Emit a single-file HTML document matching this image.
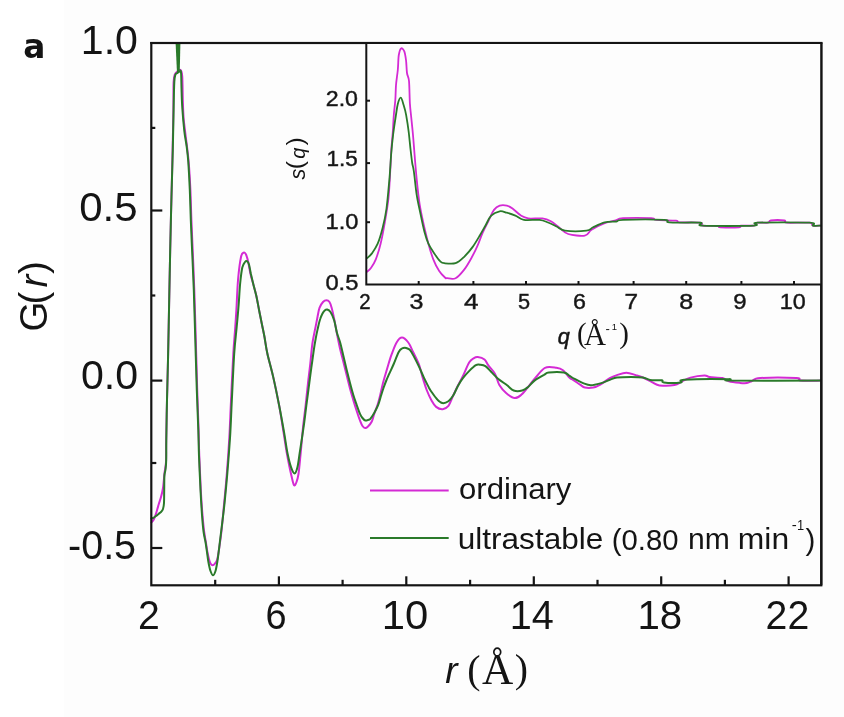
<!DOCTYPE html>
<html><head><meta charset="utf-8"><style>
html,body{margin:0;padding:0;background:#fff;}
svg{display:block;}
text{font-family:"Liberation Sans",Arial,sans-serif;fill:#141414;}
.serif{font-family:"Liberation Serif","Times New Roman",serif;}
.dv{font-family:"DejaVu Sans",sans-serif;}
</style></head><body>
<svg width="844" height="717" viewBox="0 0 844 717">
<rect x="0" y="0" width="844" height="717" fill="#ffffff"/>
<rect x="64" y="0" width="780" height="717" fill="#fdfdfd"/>
<g fill="none" stroke-width="2" stroke-linejoin="round" stroke-linecap="round">
<path d="M151.5,522.5 C151.9,521.9 153.2,520.8 154.0,519.0 C154.8,517.2 155.8,514.3 156.5,512.0 C157.2,509.7 157.8,507.5 158.5,505.0 C159.2,502.5 160.2,499.8 161.0,497.0 C161.8,494.2 162.4,492.0 163.0,488.0 C163.6,484.0 164.0,477.3 164.5,473.0 C165.0,468.7 165.7,467.5 166.0,462.0 C166.3,456.5 166.0,450.3 166.2,440.0 C166.4,429.7 166.7,413.3 167.0,400.0 C167.3,386.7 167.7,375.0 168.0,360.0 C168.3,345.0 168.7,326.7 169.0,310.0 C169.3,293.3 169.7,275.8 170.0,260.0 C170.3,244.2 170.7,227.5 171.0,215.0 C171.3,202.5 171.5,195.8 171.8,185.0 C172.1,174.2 172.3,162.5 172.6,150.0 C172.9,137.5 173.2,121.3 173.4,110.0 C173.6,98.7 173.3,88.0 173.6,82.0 C173.9,76.0 174.3,75.8 175.0,74.0 C175.7,72.2 177.1,71.7 178.0,71.0 C178.9,70.3 179.8,69.2 180.5,70.0 C181.2,70.8 181.8,71.0 182.2,76.0 C182.6,81.0 182.6,93.0 182.8,100.0 C183.0,107.0 183.2,112.5 183.6,118.0 C184.0,123.5 184.7,127.7 185.3,133.0 C185.9,138.3 186.8,144.5 187.4,150.0 C188.0,155.5 188.5,159.3 189.0,166.0 C189.5,172.7 190.0,181.0 190.4,190.0 C190.8,199.0 191.0,209.2 191.4,220.0 C191.8,230.8 192.4,243.3 192.9,255.0 C193.4,266.7 193.8,275.8 194.3,290.0 C194.8,304.2 195.3,323.3 195.8,340.0 C196.3,356.7 196.7,375.0 197.2,390.0 C197.7,405.0 198.2,419.0 198.6,430.0 C198.9,441.0 198.9,446.0 199.3,456.0 C199.7,466.0 200.3,480.2 200.8,490.0 C201.3,499.8 201.9,508.0 202.5,515.0 C203.1,522.0 203.6,527.3 204.2,532.0 C204.8,536.7 205.5,539.7 206.0,543.0 C206.5,546.3 206.9,549.4 207.4,552.0 C207.9,554.6 208.3,556.5 208.8,558.4 C209.3,560.3 209.8,562.4 210.5,563.5 C211.2,564.6 211.9,565.3 212.7,565.3 C213.4,565.3 214.2,564.5 215.0,563.5 C215.8,562.5 216.5,562.2 217.3,559.2 C218.1,556.2 218.9,550.1 219.6,545.4 C220.3,540.7 220.7,537.9 221.5,530.8 C222.3,523.7 223.3,512.2 224.2,502.7 C225.1,493.2 226.0,484.5 226.8,473.7 C227.7,462.9 228.6,450.1 229.3,438.0 C230.0,425.9 230.3,415.1 231.0,401.0 C231.7,386.9 232.6,365.9 233.3,353.7 C234.0,341.5 234.7,335.3 235.2,328.0 C235.7,320.7 235.9,317.9 236.4,309.7 C236.9,301.5 237.3,287.8 238.1,279.0 C238.9,270.2 240.1,261.4 241.0,257.0 C241.9,252.6 242.9,253.0 243.7,252.6 C244.5,252.2 245.3,253.1 246.0,254.5 C246.7,255.9 247.2,257.8 248.0,261.0 C248.8,264.2 249.6,270.0 250.5,274.0 C251.4,278.0 252.5,281.4 253.5,285.0 C254.5,288.6 255.4,291.7 256.3,295.8 C257.2,299.9 258.1,305.1 259.0,309.7 C259.9,314.3 260.9,319.1 261.8,323.7 C262.7,328.2 263.6,332.0 264.5,337.0 C265.4,342.0 265.9,347.0 267.4,353.7 C268.9,360.4 271.3,368.7 273.3,377.4 C275.3,386.1 277.5,396.7 279.2,405.8 C280.9,414.9 282.2,424.1 283.5,432.0 C284.8,439.9 285.8,447.4 286.8,453.2 C287.8,459.0 288.7,463.2 289.5,467.0 C290.3,470.8 290.8,473.0 291.5,476.0 C292.2,479.0 293.2,484.2 294.0,485.2 C294.8,486.2 295.8,483.9 296.5,482.0 C297.2,480.1 297.8,478.5 298.5,474.0 C299.2,469.5 299.7,463.1 300.5,455.0 C301.3,446.9 302.3,433.9 303.2,425.6 C304.1,417.4 304.8,412.6 305.6,405.5 C306.4,398.4 307.2,390.0 308.0,383.0 C308.8,376.0 309.6,370.3 310.3,363.7 C311.0,357.1 311.6,349.3 312.4,343.5 C313.2,337.7 314.3,333.2 315.2,328.8 C316.1,324.4 316.8,320.5 317.5,317.0 C318.2,313.5 318.6,310.4 319.5,307.9 C320.4,305.4 321.8,303.3 323.0,302.0 C324.2,300.7 325.4,300.2 326.5,300.2 C327.6,300.2 328.6,300.7 329.5,302.0 C330.4,303.3 330.9,305.2 331.7,308.0 C332.5,310.8 333.3,314.7 334.2,319.0 C335.1,323.3 336.0,329.1 337.0,334.0 C338.0,338.9 338.9,343.8 340.0,348.5 C341.1,353.2 342.3,357.5 343.4,362.0 C344.5,366.5 345.6,370.9 346.7,375.3 C347.8,379.7 348.9,384.3 350.0,388.5 C351.1,392.7 352.3,396.6 353.4,400.4 C354.5,404.1 355.6,407.6 356.7,411.0 C357.8,414.4 359.0,418.0 360.0,420.5 C361.0,423.0 361.6,424.7 362.5,426.0 C363.4,427.3 364.2,428.0 365.1,428.1 C366.0,428.2 366.9,427.6 368.0,426.5 C369.1,425.4 370.8,423.6 371.8,421.5 C372.8,419.4 373.2,416.8 374.2,414.0 C375.1,411.2 376.5,408.0 377.5,405.0 C378.5,402.0 379.1,399.7 380.0,396.0 C380.9,392.3 382.0,386.9 383.0,383.0 C384.0,379.1 385.0,375.8 386.0,372.5 C387.0,369.2 387.9,366.1 388.8,363.0 C389.8,359.9 390.4,357.6 391.7,354.2 C393.0,350.8 394.9,345.3 396.6,342.5 C398.3,339.7 400.1,337.6 402.0,337.6 C403.9,337.6 406.4,340.1 408.3,342.5 C410.2,344.9 411.4,348.5 413.2,352.2 C415.0,355.9 417.5,360.5 419.1,364.9 C420.7,369.3 421.7,374.4 423.0,378.6 C424.3,382.8 425.3,386.4 426.7,390.0 C428.1,393.6 429.8,397.4 431.4,400.2 C433.0,403.0 434.2,405.4 436.1,406.9 C438.0,408.4 440.6,409.4 442.7,409.2 C444.8,409.0 446.6,408.2 448.4,405.9 C450.1,403.6 451.6,398.9 453.2,395.5 C454.8,392.1 456.4,388.7 458.0,385.5 C459.6,382.3 460.8,380.4 462.7,376.5 C464.6,372.6 467.4,365.4 469.3,362.3 C471.2,359.2 472.6,359.0 474.0,358.1 C475.4,357.2 476.1,356.9 477.8,357.1 C479.6,357.3 482.8,358.1 484.5,359.5 C486.2,360.9 486.5,362.8 488.2,365.2 C489.9,367.6 493.0,370.3 494.9,373.7 C496.8,377.1 497.6,382.1 499.5,385.3 C501.4,388.5 503.6,390.8 506.1,392.9 C508.6,395.0 512.1,397.8 514.6,398.1 C517.1,398.4 519.1,396.6 521.3,394.8 C523.5,393.0 525.5,390.1 527.9,387.2 C530.3,384.3 532.6,380.9 535.5,377.7 C538.4,374.5 541.5,369.4 545.0,367.8 C548.5,366.2 553.4,367.4 556.4,367.8 C559.4,368.2 560.8,368.6 563.0,370.2 C565.2,371.8 567.9,376.1 569.6,377.7 C571.3,379.3 571.2,378.8 573.0,379.9 C574.8,381.0 578.1,383.3 580.1,384.6 C582.1,385.9 582.7,387.1 584.9,387.6 C587.1,388.1 590.6,388.1 593.2,387.6 C595.8,387.1 597.5,386.2 600.3,384.6 C603.1,383.0 607.0,379.7 609.8,378.1 C612.6,376.5 614.1,376.0 616.9,375.1 C619.7,374.2 623.2,372.8 626.4,372.8 C629.5,372.8 633.0,374.3 635.8,375.1 C638.5,375.9 640.1,376.3 642.9,377.5 C645.7,378.7 649.6,381.0 652.4,382.3 C655.2,383.6 655.8,384.9 659.5,385.4 C663.2,385.9 670.8,385.8 674.5,385.1 C678.2,384.4 679.3,382.6 682.0,381.3 C684.7,380.1 686.8,378.6 690.5,377.6 C694.2,376.6 701.2,375.6 704.4,375.5 C707.6,375.4 706.7,376.7 709.7,377.1 C712.7,377.5 719.3,377.4 722.5,378.1 C725.7,378.8 726.0,380.5 728.9,381.3 C731.8,382.1 737.0,382.6 740.0,382.9 C743.0,383.2 744.9,383.3 746.9,383.0 C748.9,382.7 749.8,381.8 752.0,381.0 C754.2,380.2 753.0,378.5 760.4,378.0 C767.8,377.5 789.7,377.6 796.4,378.0 C803.1,378.4 796.4,380.2 800.5,380.6 C804.6,381.0 817.6,380.6 821.0,380.6" stroke="#d42ad4"/>
<path d="M151.5,518.5 C151.8,518.4 152.2,518.4 153.0,518.0 C153.8,517.6 155.1,516.7 156.0,516.0 C156.9,515.3 157.7,514.7 158.5,514.0 C159.3,513.3 160.2,512.8 161.0,512.0 C161.8,511.2 162.5,510.5 163.0,509.0 C163.5,507.5 163.8,506.2 164.0,503.0 C164.2,499.8 164.1,494.5 164.2,490.0 C164.3,485.5 164.2,479.5 164.4,476.0 C164.6,472.5 165.3,471.7 165.6,469.0 C165.9,466.3 166.1,464.8 166.2,460.0 C166.3,455.2 166.2,450.0 166.3,440.0 C166.4,430.0 166.7,413.3 167.0,400.0 C167.3,386.7 167.7,375.0 168.0,360.0 C168.3,345.0 168.7,326.7 169.0,310.0 C169.3,293.3 169.7,275.8 170.0,260.0 C170.3,244.2 170.7,227.5 171.0,215.0 C171.3,202.5 171.5,195.8 171.8,185.0 C172.1,174.2 172.5,162.5 172.8,150.0 C173.1,137.5 173.3,121.3 173.6,110.0 C173.8,98.7 174.0,87.9 174.3,82.0 C174.6,76.1 175.0,76.0 175.5,74.5 C176.0,73.0 176.8,73.5 177.5,73.0 C178.2,72.5 178.9,71.7 179.5,71.5 C180.1,71.3 180.7,69.2 181.0,72.0 C181.3,74.8 181.3,82.0 181.5,88.0 C181.7,94.0 181.8,100.8 182.3,108.0 C182.8,115.2 183.6,124.7 184.3,131.0 C185.0,137.3 185.9,140.8 186.6,146.0 C187.3,151.2 187.8,154.7 188.3,162.0 C188.8,169.3 189.4,180.3 189.8,190.0 C190.2,199.7 190.4,209.2 190.8,220.0 C191.2,230.8 191.8,243.3 192.3,255.0 C192.8,266.7 193.3,275.8 193.8,290.0 C194.3,304.2 194.8,323.3 195.3,340.0 C195.8,356.7 196.3,375.0 196.8,390.0 C197.3,405.0 197.9,419.0 198.3,430.0 C198.7,441.0 198.6,446.0 199.0,456.0 C199.4,466.0 200.0,480.2 200.5,490.0 C201.0,499.8 201.5,508.0 202.0,515.0 C202.5,522.0 203.0,527.5 203.6,532.0 C204.2,536.5 204.9,538.7 205.5,542.0 C206.1,545.3 206.5,548.7 207.0,552.0 C207.5,555.3 207.8,558.8 208.4,562.0 C209.0,565.2 209.7,568.8 210.5,571.0 C211.3,573.2 212.2,575.3 213.0,575.3 C213.8,575.3 214.8,573.2 215.5,571.0 C216.2,568.8 216.6,566.3 217.3,562.0 C218.0,557.7 218.8,550.8 219.5,545.0 C220.2,539.2 220.8,534.2 221.7,527.2 C222.5,520.2 223.7,511.6 224.6,502.7 C225.5,493.8 226.4,484.5 227.3,473.7 C228.2,462.9 229.2,450.1 230.0,438.0 C230.8,425.9 231.1,415.1 231.8,401.0 C232.5,386.9 233.4,365.9 234.2,353.7 C235.0,341.5 236.0,334.4 236.6,328.0 C237.2,321.6 237.4,319.2 237.8,315.0 C238.2,310.8 238.4,308.1 238.8,302.8 C239.2,297.5 239.6,288.9 240.2,283.0 C240.8,277.1 241.5,271.0 242.3,267.5 C243.1,264.0 244.2,263.1 245.0,262.0 C245.8,260.9 246.3,260.8 247.0,261.2 C247.7,261.6 248.4,262.4 249.0,264.5 C249.6,266.6 250.1,270.1 250.8,273.5 C251.6,276.9 252.6,281.3 253.5,285.0 C254.4,288.7 255.4,291.7 256.3,295.8 C257.2,299.9 258.1,305.1 259.0,309.7 C259.9,314.3 260.9,319.1 261.8,323.7 C262.7,328.2 263.6,332.0 264.5,337.0 C265.4,342.0 265.9,347.0 267.4,353.7 C268.9,360.4 271.3,368.7 273.3,377.4 C275.3,386.1 277.4,396.7 279.2,405.8 C281.0,414.9 282.6,424.0 284.0,431.9 C285.4,439.8 286.3,447.3 287.5,453.2 C288.7,459.1 289.9,464.0 291.1,467.4 C292.3,470.8 293.5,473.5 294.6,473.4 C295.7,473.3 296.6,470.7 297.5,467.0 C298.4,463.3 298.9,457.9 300.0,451.0 C301.1,444.1 302.7,433.3 303.8,425.6 C304.9,417.9 305.6,410.9 306.4,405.0 C307.2,399.1 307.8,394.8 308.4,390.0 C309.0,385.2 309.6,380.5 310.2,376.0 C310.8,371.5 311.4,367.3 312.0,363.0 C312.6,358.7 313.2,354.2 313.8,350.0 C314.4,345.8 315.1,341.8 315.8,338.0 C316.5,334.2 317.3,330.7 318.0,327.5 C318.7,324.3 319.4,321.3 320.2,319.0 C320.9,316.7 321.8,314.9 322.5,313.5 C323.2,312.1 323.9,311.2 324.7,310.5 C325.5,309.8 326.2,309.2 327.2,309.5 C328.2,309.8 329.3,310.2 330.5,312.0 C331.7,313.8 333.1,317.0 334.2,320.5 C335.3,324.0 336.0,329.4 337.0,333.0 C338.0,336.6 338.9,338.2 340.0,342.0 C341.1,345.8 342.3,351.3 343.4,356.0 C344.5,360.7 345.6,365.5 346.7,370.0 C347.8,374.5 348.9,378.8 350.0,383.0 C351.1,387.2 352.3,391.6 353.4,395.3 C354.5,399.0 355.6,401.9 356.7,405.0 C357.8,408.1 359.0,411.6 360.0,413.8 C361.0,416.0 361.6,416.9 362.5,418.0 C363.4,419.1 364.4,420.2 365.3,420.5 C366.2,420.8 367.2,420.3 368.0,420.0 C368.8,419.7 369.3,420.0 370.3,418.8 C371.3,417.6 372.9,415.3 374.2,413.0 C375.5,410.7 377.1,407.8 378.1,405.2 C379.2,402.6 379.6,400.4 380.5,397.5 C381.4,394.6 382.5,390.9 383.5,388.0 C384.5,385.1 385.6,382.2 386.5,380.0 C387.4,377.8 387.6,377.4 388.8,374.7 C390.0,372.0 392.1,367.8 393.7,364.0 C395.3,360.2 397.2,354.8 398.6,352.2 C400.0,349.6 400.9,349.2 402.0,348.5 C403.1,347.8 404.0,347.8 404.9,347.8 C405.8,347.8 406.6,348.1 407.5,348.5 C408.4,348.9 409.2,348.9 410.3,350.3 C411.4,351.7 412.7,354.3 414.2,357.1 C415.7,359.9 417.5,363.5 419.1,366.9 C420.7,370.3 422.3,374.2 423.9,377.6 C425.5,381.0 427.6,385.0 428.8,387.4 C430.1,389.8 430.0,389.7 431.4,391.7 C432.8,393.7 435.3,397.4 437.1,399.3 C438.9,401.2 440.4,402.8 442.3,403.1 C444.2,403.4 446.6,402.5 448.4,401.2 C450.2,399.9 451.6,398.0 453.2,395.5 C454.8,393.0 456.3,388.9 457.9,386.0 C459.5,383.1 460.8,380.9 462.7,378.4 C464.6,375.9 467.1,373.1 469.3,370.9 C471.5,368.7 474.2,366.2 475.9,365.2 C477.6,364.2 478.1,364.5 479.7,364.7 C481.3,364.9 483.5,364.9 485.4,366.1 C487.3,367.3 489.1,369.8 491.1,371.8 C493.2,373.9 495.0,376.1 497.7,378.4 C500.4,380.6 504.4,383.3 507.1,385.3 C509.8,387.3 511.2,389.6 513.7,390.5 C516.2,391.4 519.8,391.1 522.2,390.5 C524.6,389.9 525.9,388.8 527.9,387.2 C529.9,385.6 531.8,382.7 534.5,380.6 C537.2,378.6 541.6,376.2 544.0,374.9 C546.4,373.5 545.5,372.9 548.8,372.5 C552.1,372.1 560.4,371.9 563.9,372.5 C567.4,373.1 567.9,374.9 569.6,375.9 C571.3,376.9 571.9,377.4 574.2,378.7 C576.6,379.9 580.9,382.3 583.7,383.4 C586.5,384.5 588.0,385.2 590.8,385.2 C593.6,385.2 597.1,384.3 600.3,383.4 C603.5,382.5 607.0,380.9 609.8,379.9 C612.6,378.9 613.3,378.0 616.9,377.5 C620.5,377.0 626.8,376.9 631.1,376.9 C635.4,376.9 639.8,377.0 642.9,377.5 C646.0,378.0 646.9,379.4 650.0,379.9 C653.1,380.4 659.4,379.9 661.7,380.3 C664.0,380.7 660.7,382.0 663.9,382.4 C667.1,382.8 677.5,382.8 680.9,382.4 C684.3,381.9 676.1,380.2 684.1,379.7 C692.1,379.2 721.1,379.0 728.9,379.2 C736.7,379.4 715.6,380.4 731.0,380.6 C746.4,380.8 806.0,380.6 821.0,380.6" stroke="#2a7a2a"/>
</g>
<polygon points="175.6,43 180.4,43 179.8,70 177,73" fill="#2a7a2a"/>
<g stroke="#141414" stroke-width="2.2" fill="none">
<rect x="151.3" y="43" width="670" height="542.3"/>
<line x1="215.2" y1="585.3" x2="215.2" y2="579.8"/>
<line x1="278.9" y1="585.3" x2="278.9" y2="576.3"/>
<line x1="342.6" y1="585.3" x2="342.6" y2="579.8"/>
<line x1="406.3" y1="585.3" x2="406.3" y2="576.3"/>
<line x1="470.1" y1="585.3" x2="470.1" y2="579.8"/>
<line x1="533.8" y1="585.3" x2="533.8" y2="576.3"/>
<line x1="597.5" y1="585.3" x2="597.5" y2="579.8"/>
<line x1="661.2" y1="585.3" x2="661.2" y2="576.3"/>
<line x1="724.9" y1="585.3" x2="724.9" y2="579.8"/>
<line x1="788.6" y1="585.3" x2="788.6" y2="576.3"/>
<line x1="151.3" y1="127.9" x2="155.3" y2="127.9"/>
<line x1="151.3" y1="210.5" x2="162.3" y2="210.5"/>
<line x1="151.3" y1="295.5" x2="155.3" y2="295.5"/>
<line x1="151.3" y1="380.6" x2="162.3" y2="380.6"/>
<line x1="151.3" y1="463" x2="156.3" y2="463"/>
<line x1="151.3" y1="548" x2="162.3" y2="548"/>
</g>
<rect x="366.3" y="43" width="455" height="241.5" fill="#fdfdfd"/>
<g fill="none" stroke-width="1.8" stroke-linejoin="round">
<path d="M366.8,272.0 C367.5,271.3 369.4,270.1 370.9,268.0 C372.4,265.9 374.2,263.4 375.8,259.3 C377.4,255.2 379.2,249.6 380.6,243.7 C382.1,237.8 383.2,231.6 384.5,224.1 C385.8,216.6 387.4,207.8 388.4,198.8 C389.4,189.8 389.8,178.1 390.3,170.0 C390.8,161.9 390.9,156.3 391.3,150.0 C391.7,143.7 392.4,137.8 392.8,132.0 C393.2,126.2 393.4,120.6 393.8,115.3 C394.2,110.0 394.9,105.3 395.3,100.3 C395.7,95.3 395.6,90.2 396.0,85.2 C396.4,80.2 397.3,75.0 397.8,70.0 C398.3,65.0 398.2,58.6 398.8,55.0 C399.4,51.4 400.2,49.0 401.1,48.4 C402.0,47.8 403.4,49.3 404.2,51.2 C405.0,53.1 405.5,56.4 406.0,60.0 C406.5,63.6 406.5,69.5 407.0,73.0 C407.5,76.5 408.5,75.9 409.0,81.0 C409.5,86.1 409.5,97.6 409.9,103.6 C410.3,109.6 410.7,111.9 411.2,117.0 C411.7,122.1 412.4,128.5 412.9,134.0 C413.4,139.5 413.6,142.4 414.2,150.0 C414.8,157.6 415.8,170.2 416.7,179.3 C417.6,188.4 418.5,197.1 419.7,204.6 C420.9,212.1 422.2,217.6 423.6,224.1 C425.1,230.6 426.8,237.8 428.4,243.7 C430.0,249.6 431.5,254.8 433.3,259.3 C435.1,263.9 437.2,268.0 439.2,271.0 C441.1,274.0 443.7,276.3 445.0,277.5 C446.3,278.7 445.3,278.1 447.1,278.2 C448.9,278.3 452.8,279.6 455.6,278.2 C458.5,276.8 461.6,272.9 464.2,269.6 C466.8,266.3 469.2,262.0 471.3,258.2 C473.4,254.4 475.1,251.2 477.0,246.9 C478.9,242.7 480.8,237.0 482.7,232.7 C484.6,228.4 486.4,225.1 488.3,221.3 C490.2,217.5 492.1,212.5 494.0,209.9 C495.9,207.3 497.6,206.3 499.7,205.6 C501.8,204.9 504.7,205.1 506.8,205.6 C508.9,206.1 510.1,206.8 512.5,208.5 C514.9,210.2 518.4,213.9 521.0,215.6 C523.6,217.2 524.6,217.9 528.2,218.4 C531.8,218.9 538.6,217.9 542.4,218.4 C546.2,218.9 548.0,219.7 550.9,221.3 C553.8,222.9 557.1,226.1 560.0,228.2 C562.9,230.3 564.1,232.8 568.2,234.0 C572.3,235.2 580.9,236.3 584.8,235.6 C588.7,234.9 588.2,231.9 591.5,229.8 C594.8,227.7 600.8,224.7 604.7,223.2 C608.6,221.7 611.7,221.5 614.7,220.7 C617.8,219.9 616.9,218.6 623.0,218.2 C629.1,217.8 645.7,217.9 651.2,218.2 C656.7,218.5 652.0,219.5 656.1,219.9 C660.2,220.3 672.1,220.3 676.0,220.7 C679.9,221.1 675.4,222.1 679.4,222.4 C683.4,222.7 696.1,222.2 700.0,222.7 C703.9,223.2 700.0,225.0 703.0,225.6 C706.0,226.2 715.1,225.7 718.0,226.0 C720.9,226.3 716.9,227.2 720.4,227.4 C723.9,227.6 735.5,227.7 738.9,227.4 C742.3,227.1 738.5,225.9 741.0,225.6 C743.5,225.3 751.3,226.1 754.0,225.6 C756.7,225.1 755.1,223.2 757.4,222.7 C759.7,222.2 765.8,223.1 768.0,222.7 C770.2,222.3 768.1,220.9 770.8,220.5 C773.5,220.1 781.6,220.1 784.3,220.5 C787.0,220.9 782.8,222.3 787.0,222.7 C791.2,223.1 805.2,222.2 809.5,222.7 C813.8,223.2 811.0,225.1 812.9,225.6 C814.8,226.1 819.6,225.6 821.0,225.6" stroke="#d42ad4"/>
<path d="M366.8,258.5 C367.6,257.6 370.1,255.9 371.9,253.4 C373.7,250.9 375.9,247.9 377.7,243.7 C379.5,239.5 381.1,233.9 382.6,228.0 C384.1,222.1 385.4,216.6 386.5,208.5 C387.6,200.4 388.6,188.2 389.4,179.3 C390.2,170.4 390.5,162.6 391.1,155.0 C391.7,147.4 392.4,140.5 393.2,134.0 C394.0,127.5 395.0,121.0 395.8,116.0 C396.6,111.0 397.0,107.0 397.8,104.0 C398.6,101.0 399.8,97.5 400.8,97.7 C401.8,97.9 402.8,102.4 403.7,105.3 C404.6,108.2 405.4,110.8 406.2,115.3 C407.0,119.8 408.0,126.2 408.7,132.0 C409.4,137.8 410.0,144.8 410.6,150.0 C411.2,155.2 411.7,159.5 412.2,163.0 C412.7,166.5 413.1,165.7 413.8,171.0 C414.6,176.3 415.6,187.7 416.7,194.9 C417.8,202.1 419.3,208.2 420.6,214.4 C421.9,220.6 423.2,227.1 424.5,232.0 C425.8,236.9 426.8,240.1 428.4,243.7 C430.0,247.3 432.4,250.5 434.3,253.4 C436.2,256.3 438.4,259.6 440.1,261.2 C441.8,262.8 441.7,262.9 444.3,263.2 C446.9,263.5 452.3,264.3 455.6,263.2 C458.9,262.1 461.4,259.5 464.2,256.8 C467.0,254.1 470.1,250.5 472.7,246.9 C475.3,243.3 477.7,239.1 479.8,235.5 C481.9,231.9 483.6,228.8 485.5,225.5 C487.4,222.2 488.8,218.0 491.2,215.6 C493.6,213.2 497.1,211.8 499.7,211.3 C502.3,210.8 504.2,212.0 506.8,212.7 C509.4,213.4 512.5,214.4 515.4,215.6 C518.2,216.8 519.9,219.2 523.9,219.9 C527.9,220.6 535.5,219.5 539.5,219.9 C543.5,220.3 545.2,221.4 548.1,222.5 C551.0,223.6 553.8,225.1 556.6,226.5 C559.4,227.9 559.9,230.0 564.9,230.7 C569.9,231.4 581.8,231.3 586.5,230.7 C591.2,230.1 590.1,228.7 593.1,227.3 C596.1,225.9 600.8,223.4 604.7,222.4 C608.6,221.4 613.2,221.9 616.3,221.5 C619.3,221.1 615.0,220.2 623.0,219.9 C631.0,219.6 656.7,219.5 664.4,219.9 C672.1,220.3 663.4,221.9 669.4,222.4 C675.4,222.9 694.7,222.2 700.2,222.7 C705.8,223.2 693.7,225.1 702.7,225.6 C711.7,226.1 744.9,226.1 754.0,225.6 C763.1,225.1 748.1,223.2 757.4,222.7 C766.6,222.2 800.2,222.2 809.5,222.7 C818.8,223.2 811.0,225.1 812.9,225.6 C814.8,226.1 819.6,225.6 821.0,225.6" stroke="#2a7a2a"/>
</g>
<g stroke="#141414" stroke-width="2" fill="none">
<polyline points="366.3,43 366.3,284.5 821.3,284.5"/>
<line x1="150.2" y1="43" x2="822.4" y2="43" stroke-width="2.2"/>
<line x1="821.3" y1="43" x2="821.3" y2="585.3" stroke-width="2.2"/>
<line x1="418.7" y1="284.5" x2="418.7" y2="281"/>
<line x1="473.4" y1="284.5" x2="473.4" y2="281"/>
<line x1="526" y1="284.5" x2="526" y2="281"/>
<line x1="578.5" y1="284.5" x2="578.5" y2="281"/>
<line x1="633.6" y1="284.5" x2="633.6" y2="281"/>
<line x1="686.2" y1="284.5" x2="686.2" y2="281"/>
<line x1="741.4" y1="284.5" x2="741.4" y2="281"/>
<line x1="794" y1="284.5" x2="794" y2="281"/>
<line x1="366.3" y1="100.7" x2="370" y2="100.7"/>
<line x1="366.3" y1="163.1" x2="370" y2="163.1"/>
<line x1="366.3" y1="222.2" x2="370" y2="222.2"/>
</g>
<text x="80.8" y="53.7" font-size="40" textLength="57.14" lengthAdjust="spacingAndGlyphs">1.0</text>
<text x="79.2" y="221.4" font-size="40" textLength="58.40" lengthAdjust="spacingAndGlyphs">0.5</text>
<text x="81.0" y="388.9" font-size="40" textLength="57.14" lengthAdjust="spacingAndGlyphs">0.0</text>
<text x="68.0" y="558.9" font-size="40" textLength="68.11" lengthAdjust="spacingAndGlyphs">-0.5</text>
<text x="138.0" y="628.9" font-size="40" textLength="21.80" lengthAdjust="spacingAndGlyphs">2</text>
<text x="265.6" y="628.9" font-size="40" textLength="21.08" lengthAdjust="spacingAndGlyphs">6</text>
<text x="381.8" y="628.9" font-size="40" textLength="46.51" lengthAdjust="spacingAndGlyphs">10</text>
<text x="509.8" y="628.9" font-size="40" textLength="44.08" lengthAdjust="spacingAndGlyphs">14</text>
<text x="637.4" y="628.9" font-size="40" textLength="44.77" lengthAdjust="spacingAndGlyphs">18</text>
<text x="765.6" y="628.9" font-size="40" textLength="43.65" lengthAdjust="spacingAndGlyphs">22</text>
<g transform="translate(23.25,58.00)"><text x="0" y="0" font-size="32.80" font-weight="bold" class="dv">a</text></g>
<g transform="translate(46.85,331.45)"><text x="0" y="0" font-size="38.36" transform="rotate(-90)">G</text></g>
<g transform="translate(45.80,304.60)"><text x="0" y="0" font-size="38.50" transform="rotate(-90)">(</text></g>
<g transform="translate(47.20,287.40)"><text x="0" y="0" font-size="38.50" font-style="italic" transform="rotate(-90)">r</text></g>
<g transform="translate(45.80,273.90)"><text x="0" y="0" font-size="38.50" transform="rotate(-90)">)</text></g>
<g transform="translate(445.20,683.45)"><text x="0" y="0" font-size="36.91" font-style="italic">r</text></g>
<g transform="translate(467.30,682.80)"><text x="0" y="0" font-size="39.78" class="serif">(</text></g>
<g transform="translate(482.00,683.85)"><text x="0" y="0" font-size="43.27" class="serif">Å</text></g>
<g transform="translate(514.70,682.30)"><text x="0" y="0" font-size="39.78" class="serif">)</text></g>
<g transform="translate(305.30,179.40)"><text x="0" y="0" font-size="21.63" font-style="italic" transform="rotate(-90)">s</text></g>
<g transform="translate(303.20,169.20)"><text x="0" y="0" font-size="24.51" transform="rotate(-90)">(</text></g>
<g transform="translate(304.55,158.70)"><text x="0" y="0" font-size="20.06" font-style="italic" transform="rotate(-90)">q</text></g>
<g transform="translate(303.20,145.40)"><text x="0" y="0" font-size="24.51" transform="rotate(-90)">)</text></g>
<g transform="translate(557.80,343.85)"><text x="0" y="0" font-size="21.61" font-style="italic" stroke="#141414" stroke-width="0.5">q</text></g>
<g transform="translate(577.10,343.35)"><text x="0" y="0" font-size="28.97" class="serif">(</text></g>
<g transform="translate(583.90,344.70)"><text x="0" y="0" font-size="30.54" class="serif">Å</text></g>
<g transform="translate(619.25,343.35)"><text x="0" y="0" font-size="28.97" class="serif">)</text></g>
<g transform="translate(605.60,333.40)"><text fill="#8a8a8a" x="0" y="0" font-size="13.00">-</text></g>
<g transform="translate(611.80,330.40)"><text fill="#6a6a6a" x="0" y="0" font-size="9.50">1</text></g>
<g stroke-width="2.2">
<line x1="370" y1="490.5" x2="448.7" y2="490.5" stroke="#d42ad4"/>
<line x1="370" y1="538" x2="448.7" y2="538" stroke="#2a7a2a"/>
</g>
<text x="459.0" y="499.0" font-size="29" textLength="112.44" lengthAdjust="spacingAndGlyphs">ordinary</text>
<text x="457.8" y="549.0" font-size="29" textLength="145.46" lengthAdjust="spacingAndGlyphs">ultrastable</text>
<text x="611.8" y="549.5" font-size="29" textLength="66.74" lengthAdjust="spacingAndGlyphs">(0.80</text>
<text x="688.0" y="549.0" font-size="29" textLength="41.85" lengthAdjust="spacingAndGlyphs">nm</text>
<text x="737.8" y="549.0" font-size="29" textLength="51.31" lengthAdjust="spacingAndGlyphs">min</text>
<text x="805.4" y="549.5" font-size="29" textLength="9.87" lengthAdjust="spacingAndGlyphs">)</text>
<text x="797.0" y="530.0" font-size="15" textLength="7.15" lengthAdjust="spacingAndGlyphs" fill="#3a3a3a">1</text>
<g transform="translate(791.80,530.00)"><text fill="#b0b0b0" x="0" y="0" font-size="15.00">-</text></g>
<g fill="#222" stroke="#222" stroke-width="0.45">
<text x="325.8" y="105.9" font-size="22.5" textLength="32.20" lengthAdjust="spacingAndGlyphs">2.0</text>
<text x="326.4" y="166.3" font-size="22.5" textLength="31.34" lengthAdjust="spacingAndGlyphs">1.5</text>
<text x="325.6" y="228.5" font-size="22.5" textLength="32.87" lengthAdjust="spacingAndGlyphs">1.0</text>
<text x="325.4" y="290.4" font-size="22.5" textLength="33.03" lengthAdjust="spacingAndGlyphs">0.5</text>
<text x="359.2" y="308.8" font-size="22.5" textLength="11.33" lengthAdjust="spacingAndGlyphs">2</text>
<text x="409.6" y="308.8" font-size="22.5" textLength="13.93" lengthAdjust="spacingAndGlyphs">3</text>
<text x="464.0" y="308.8" font-size="22.5" textLength="14.50" lengthAdjust="spacingAndGlyphs">4</text>
<text x="518.0" y="308.8" font-size="22.5" textLength="12.10" lengthAdjust="spacingAndGlyphs">5</text>
<text x="573.0" y="308.8" font-size="22.5" textLength="12.94" lengthAdjust="spacingAndGlyphs">6</text>
<text x="624.6" y="308.8" font-size="22.5" textLength="13.57" lengthAdjust="spacingAndGlyphs">7</text>
<text x="679.2" y="308.8" font-size="22.5" textLength="13.93" lengthAdjust="spacingAndGlyphs">8</text>
<text x="733.2" y="308.8" font-size="22.5" textLength="13.31" lengthAdjust="spacingAndGlyphs">9</text>
<text x="779.8" y="308.8" font-size="22.5" textLength="25.96" lengthAdjust="spacingAndGlyphs">10</text>
</g>
</svg>
</body></html>
